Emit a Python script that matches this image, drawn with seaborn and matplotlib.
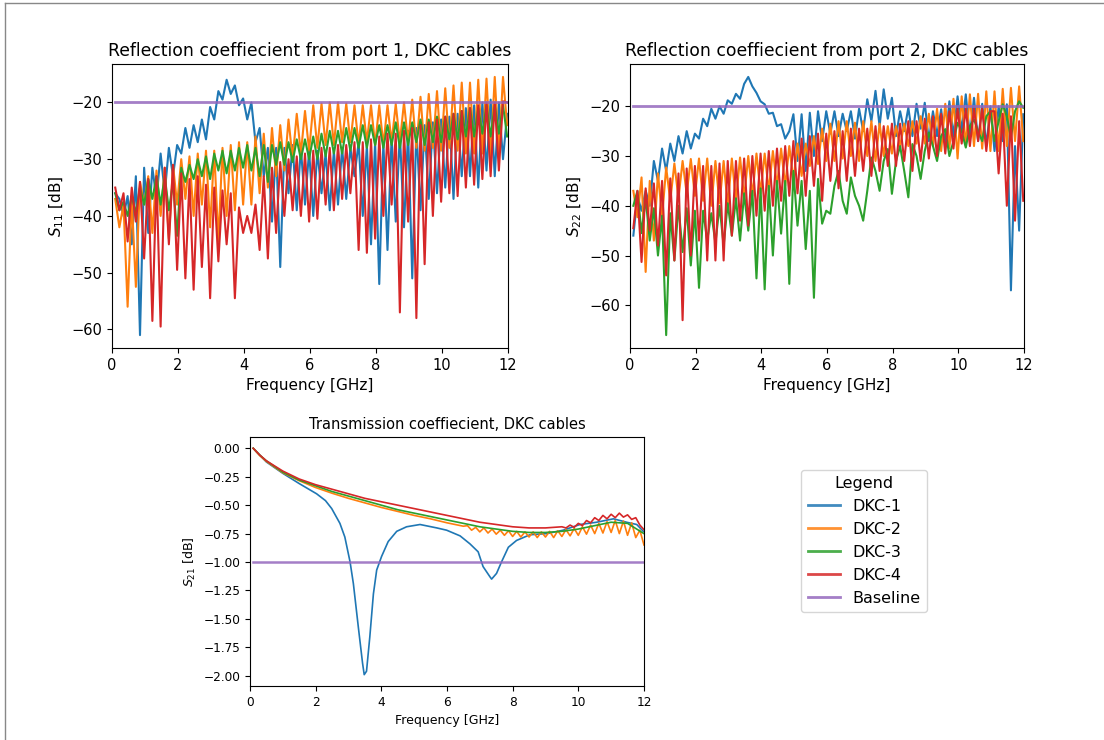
import numpy as np
import pandas as pd
import matplotlib
matplotlib.use("Agg")
import matplotlib.pyplot as plt
import seaborn as sns
from matplotlib.lines import Line2D

# ---------------- data ----------------
cables = ["DKC-1", "DKC-2", "DKC-3", "DKC-4"]
baseline_name = "Baseline"
palette = {"DKC-1": "#1f77b4", "DKC-2": "#ff7f0e", "DKC-3": "#2ca02c",
           "DKC-4": "#d62728", "Baseline": "#9467bd"}

# measurement frequencies for reflection traces (GHz), 0.1 ... 11.975
freq_refl = np.round(0.1 + 0.125 * np.arange(96), 3)
baseline_freq = [0.1, 12.0]
s11_baseline = -20.0
s22_baseline = -20.0
s21_baseline = -1.0

# S11 [dB]
s11_dkc1 = [-36, -37, -40, -36.5, -45, -33, -61, -31.5,
            -43, -31.5, -37, -29, -36, -28, -33, -27.5,
            -29, -24.5, -28, -24, -27, -23, -26.5, -20.8,
            -23, -18, -19.5, -16, -18.5, -17, -20.5, -19.3,
            -23, -20, -27, -24.5, -33, -28, -41, -28,
            -49, -28, -36, -27.5, -39, -28, -38, -28.5,
            -40, -28.5, -36, -29, -39, -28.5, -38, -28,
            -37, -28, -33, -27, -40, -27.5, -45, -27,
            -52, -27, -46, -26, -41, -25.5, -42, -25,
            -51, -24.5, -39, -24, -37, -23.5, -36, -23,
            -35, -22.5, -37, -22, -33, -21, -33, -20.5,
            -35, -20, -32, -19.5, -33, -20, -30, -22]
s11_dkc2 = [-37, -42, -38, -56, -37, -52.5, -34, -38,
            -33, -43, -32, -40, -31.5, -44, -31, -38,
            -30, -37, -29.5, -40, -29, -38, -28.5, -42,
            -28.5, -44.5, -28, -40, -27.5, -39, -27, -38,
            -27, -38, -26, -36, -25.5, -35, -24.5, -33,
            -24, -32, -23, -30, -22, -29, -21.5, -28.5,
            -20.5, -28, -20.2, -27.5, -20, -27.5, -20, -27,
            -20.2, -27, -20.5, -27.5, -20.5, -27, -20.5, -27.5,
            -20.5, -27.5, -20.5, -27, -20.3, -27, -20, -27,
            -19.5, -28, -19, -28.5, -18.5, -28, -18, -28.5,
            -17.5, -28, -17, -28.5, -16.5, -29, -16.5, -29,
            -16, -29, -15.8, -29.5, -15.5, -29, -15.5, -24]
s11_dkc3 = [-36, -39, -37.5, -40, -36.5, -39.5, -35, -38,
            -33.5, -37, -33, -38, -33, -39, -34, -43.5,
            -31.5, -34, -31, -33.5, -30, -33, -29.5, -33.5,
            -29, -32, -28.5, -32.5, -28.5, -32, -28, -31.5,
            -27.5, -32, -28, -33, -27.5, -34, -27.5, -31,
            -27, -31, -27, -30.5, -26.5, -30, -26.5, -30,
            -26, -30, -25.5, -29.5, -25, -29, -25, -29,
            -24.5, -28.5, -24.5, -28, -24, -28, -24, -27.5,
            -24, -28, -24, -27.5, -23.5, -28, -23.5, -27.5,
            -23.5, -27, -23, -27.5, -23, -27, -22.5, -27,
            -22.5, -26.5, -22, -26.5, -21.5, -26, -21, -26,
            -21, -25.5, -20.5, -26, -20.5, -25.5, -20.5, -26]
s11_dkc4 = [-35, -39, -36, -44.5, -35, -41, -34, -47.5,
            -33.5, -58.5, -33, -59.5, -31.5, -45, -31, -49.5,
            -32.5, -51, -33.5, -53, -33, -49, -34.5, -54.5,
            -35, -48, -35.5, -45, -36, -54.5, -38.5, -43,
            -40, -43, -38, -46, -33, -47.5, -31.5, -43,
            -30.5, -40, -30, -39, -29.5, -40, -29, -41,
            -28.5, -40.5, -28, -38, -28, -39, -27.5, -37,
            -27.5, -36, -27, -46, -27, -46.5, -26.5, -44,
            -26, -40, -25.5, -38, -25.5, -57, -25, -41,
            -24.5, -58, -24, -48.5, -23.5, -40, -23, -37.5,
            -22.5, -36, -22, -36.5, -21.5, -35, -21, -34.5,
            -20.5, -33.5, -20, -33, -20, -32, -19.8, -20]

# S22 [dB]
s22_dkc1 = [-46, -38, -41, -37, -40, -31, -35, -28.5,
            -33, -27.5, -31, -26, -29.5, -25, -28.5, -25.5,
            -26.5, -22.5, -24, -20.5, -22.5, -20, -21.5, -18.8,
            -19.5, -17.5, -18.5, -15.5, -14.1, -16, -17.3, -19,
            -19.6, -21.5, -21.3, -24, -23.6, -26.5, -25, -21.6,
            -31, -21.6, -33, -21.3, -30, -21, -27, -21,
            -25.5, -21, -26, -21.5, -25, -21, -26.5, -20.5,
            -25, -18.6, -23, -16.9, -24, -16.6, -22.5, -18.3,
            -26, -21, -25, -20.3, -26, -19.5, -24.5, -19.3,
            -27, -21, -26, -20.6, -28, -19, -26, -18,
            -25, -17.6, -26, -18.3, -27, -19.5, -28, -20,
            -29, -20, -27, -19.6, -57, -28, -45, -21.6]
s22_dkc2 = [-37, -42.3, -34.3, -53.3, -35, -47, -33.5, -42.3,
            -32.3, -39, -31.5, -38.5, -31, -37.6, -30.6, -38,
            -30.5, -39, -30.5, -40, -31, -39.5, -31, -40,
            -30.5, -39, -30.3, -38.5, -30, -38, -29.5, -37.5,
            -29.5, -37, -29, -36, -28.5, -36, -28, -35,
            -27.5, -34, -27.5, -32, -26, -31.6, -24.5, -31,
            -23.5, -31, -23, -30.5, -23, -30, -23.3, -31,
            -23, -30, -23, -31, -23.5, -30, -24, -29.5,
            -24, -28, -23.5, -28, -23, -27.5, -22, -27.5,
            -21.5, -28, -20.5, -29, -19.5, -28.5, -18.5, -30.5,
            -18, -28, -17.6, -28, -17.5, -28.5, -17, -29,
            -17, -29, -16.5, -28, -16.3, -27, -16, -27]
s22_dkc3 = [-40, -37, -45.5, -38.5, -47, -40.5, -50, -42,
            -66, -41.5, -51, -40, -49.3, -40.5, -52, -41,
            -56.5, -41, -47, -41.5, -47.5, -40, -48, -39.5,
            -46, -38.5, -47, -37.5, -45, -37, -54.6, -36.5,
            -56.8, -36, -50, -35, -45.6, -35, -55.7, -33,
            -44, -35, -48.7, -37, -58.5, -34.6, -43.6, -41,
            -41.6, -36, -33, -39, -41.6, -34.3, -38, -40,
            -43, -37, -30.3, -33, -37, -31, -28.6, -37.6,
            -31, -28, -33, -38.3, -27.6, -30, -34.6, -29,
            -25.3, -28, -31, -26, -24.6, -30, -27, -23.3,
            -25, -28.3, -24, -22.6, -25, -27, -22, -21,
            -27, -23, -19.6, -22, -26.3, -21, -19, -20.3]
s22_dkc4 = [-44.5, -37, -51.3, -36.5, -45, -35.5, -48, -35,
            -54, -34.5, -51, -33.5, -63, -32.5, -50, -32,
            -47, -32, -51, -32, -51, -31.5, -51, -31,
            -46, -31, -43, -30.5, -44, -30, -42, -29.5,
            -41, -29, -40, -28.5, -39, -28, -38, -27,
            -37.5, -26.5, -38, -26, -36, -25.5, -39, -25.5,
            -35, -25, -36.5, -25, -35, -24.5, -34, -24.5,
            -33, -24.5, -34, -24, -33, -24, -32, -23.5,
            -32, -23.5, -31, -23, -33, -23, -31, -22.5,
            -30.5, -22, -30, -21.5, -29.5, -21, -28.5, -20.5,
            -27.5, -20.5, -28, -20.5, -27, -20.5, -29, -21,
            -21, -33.5, -21.5, -40, -22, -43, -23, -39]

# S21 [dB]
s21_dkc1_freq = [0.1, 0.5, 1.0, 1.5, 2.03, 2.3, 2.49, 2.74, 2.89, 3.05,
                 3.15, 3.3, 3.43, 3.48, 3.55, 3.65, 3.76, 3.86, 4.01, 4.21,
                 4.47, 4.77, 5.18, 5.69, 5.99, 6.4, 6.7, 6.95, 7.1, 7.31,
                 7.36, 7.51, 7.66, 7.87, 8.12, 8.53, 9.04, 9.54, 10.05, 10.56,
                 11.07, 11.47, 11.78, 11.98]
s21_dkc1 = [0, -0.12, -0.22, -0.31, -0.40, -0.46, -0.53, -0.66, -0.78, -1.0,
            -1.19, -1.57, -1.89, -1.99, -1.96, -1.66, -1.28, -1.07, -0.95, -0.82,
            -0.73, -0.69, -0.67, -0.70, -0.72, -0.77, -0.84, -0.91, -1.04, -1.13,
            -1.15, -1.10, -1.0, -0.87, -0.81, -0.76, -0.75, -0.72, -0.67, -0.65,
            -0.62, -0.65, -0.67, -0.73]
s21_smooth_freq = [0.1, 0.3, 0.5, 0.75, 1, 1.5, 2, 2.5, 3, 3.5, 4, 4.5, 5,
                   5.5, 6, 6.5, 7, 7.5, 8, 8.5, 9, 9.5, 10, 10.5, 11, 11.5, 12]
s21_dkc3 = [0, -0.06, -0.11, -0.16, -0.21, -0.28, -0.33, -0.38, -0.42,
            -0.46, -0.50, -0.54, -0.57, -0.60, -0.63, -0.66, -0.69, -0.71,
            -0.73, -0.74, -0.74, -0.73, -0.71, -0.68, -0.65, -0.66, -0.75]
s21_dkc2_freq = [0.1, 0.3, 0.5, 0.75, 1, 1.5, 2, 2.5, 3, 3.5, 4, 4.5, 5, 5.5, 6, 6.5,
                 6.625, 6.75, 6.875, 7.0, 7.125, 7.25, 7.375, 7.5, 7.625, 7.75,
                 7.875, 8.0, 8.125, 8.25, 8.375, 8.5, 8.625, 8.75, 8.875, 9.0,
                 9.125, 9.25, 9.375, 9.5, 9.625, 9.75, 9.875, 10.0, 10.125, 10.25,
                 10.375, 10.5, 10.625, 10.75, 10.875, 11.0, 11.125, 11.25, 11.375,
                 11.5, 11.625, 11.75, 11.875, 12.0]
s21_dkc2 = [0, -0.065, -0.115, -0.165, -0.215, -0.285, -0.345, -0.395, -0.44,
            -0.48, -0.52, -0.555, -0.59, -0.62, -0.655, -0.685,
            -0.68, -0.72, -0.695, -0.735, -0.70, -0.745, -0.71, -0.755, -0.72, -0.765,
            -0.725, -0.775, -0.73, -0.78, -0.735, -0.78, -0.735, -0.785, -0.735, -0.78,
            -0.73, -0.785, -0.725, -0.775, -0.715, -0.77, -0.705, -0.765, -0.69, -0.755,
            -0.675, -0.75, -0.66, -0.745, -0.645, -0.74, -0.635, -0.75, -0.64,
            -0.765, -0.655, -0.785, -0.72, -0.85]
s21_dkc4_freq = [0.1, 0.3, 0.5, 0.75, 1, 1.5, 2, 2.5, 3, 3.5, 4, 4.5, 5, 5.5, 6,
                 6.5, 7, 7.5, 8, 8.5, 9, 9.5, 9.625, 9.75, 9.875, 10.0, 10.125,
                 10.25, 10.375, 10.5, 10.625, 10.75, 10.875, 11.0, 11.125, 11.25,
                 11.375, 11.5, 11.625, 11.75, 11.875, 12.0]
s21_dkc4 = [0, -0.06, -0.11, -0.155, -0.20, -0.27, -0.32, -0.36, -0.40, -0.44,
            -0.47, -0.50, -0.53, -0.56, -0.59, -0.62, -0.65, -0.67, -0.69,
            -0.70, -0.70, -0.69, -0.70, -0.675, -0.695, -0.66, -0.68, -0.635,
            -0.655, -0.61, -0.635, -0.59, -0.62, -0.58, -0.61, -0.57, -0.605,
            -0.585, -0.625, -0.61, -0.675, -0.715]


def long_frame(series, base_value):
    frames = []
    for name, (fr, vals) in series.items():
        frames.append(pd.DataFrame({"Frequency": fr, "Value": vals, "Cable": name}))
    frames.append(pd.DataFrame({"Frequency": baseline_freq,
                                "Value": [base_value, base_value],
                                "Cable": baseline_name}))
    return pd.concat(frames, ignore_index=True)


df11 = long_frame({"DKC-1": (freq_refl, s11_dkc1), "DKC-2": (freq_refl, s11_dkc2),
                   "DKC-3": (freq_refl, s11_dkc3), "DKC-4": (freq_refl, s11_dkc4)},
                  s11_baseline)
df22 = long_frame({"DKC-1": (freq_refl, s22_dkc1), "DKC-2": (freq_refl, s22_dkc2),
                   "DKC-3": (freq_refl, s22_dkc3), "DKC-4": (freq_refl, s22_dkc4)},
                  s22_baseline)
df21 = long_frame({"DKC-1": (s21_dkc1_freq, s21_dkc1), "DKC-2": (s21_dkc2_freq, s21_dkc2),
                   "DKC-3": (s21_smooth_freq, s21_dkc3), "DKC-4": (s21_dkc4_freq, s21_dkc4)},
                  s21_baseline)

order = cables + [baseline_name]


def style_baseline(ax, lw):
    # last drawn line is the baseline
    base = ax.lines[-1]
    base.set_linewidth(lw)
    base.set_alpha(0.85)


# ---------------- figure ----------------
fig = plt.figure(figsize=(11.04, 7.4), dpi=100)
ax1 = fig.add_axes([0.1014, 0.5297, 0.3587, 0.3838])
ax2 = fig.add_axes([0.5707, 0.5297, 0.3569, 0.3838])
ax3 = fig.add_axes([0.2264, 0.0730, 0.3569, 0.3365])

for ax, df, ylab, title in [
        (ax1, df11, "$S_{11}$ [dB]", "Reflection coeffiecient from port 1, DKC cables"),
        (ax2, df22, "$S_{22}$ [dB]", "Reflection coeffiecient from port 2, DKC cables")]:
    sns.lineplot(data=df, x="Frequency", y="Value", hue="Cable", hue_order=order,
                 palette=palette, estimator=None, legend=False, ax=ax, linewidth=1.5)
    style_baseline(ax, 2.0)
    ax.set_xlim(0, 12)
    ax.set_xticks([0, 2, 4, 6, 8, 10, 12])
    ax.set_xlabel("Frequency [GHz]", fontsize=11)
    ax.set_ylabel(ylab, fontsize=11)
    ax.set_title(title, fontsize=12.4)
    ax.tick_params(labelsize=10.5)

sns.lineplot(data=df21, x="Frequency", y="Value", hue="Cable", hue_order=order,
             palette=palette, estimator=None, legend=False, ax=ax3, linewidth=1.2)
style_baseline(ax3, 1.8)
ax3.set_xlim(0, 12)
ax3.set_xticks([0, 2, 4, 6, 8, 10, 12])
ax3.set_yticks([0, -0.25, -0.5, -0.75, -1.0, -1.25, -1.5, -1.75, -2.0])
ax3.set_xlabel("Frequency [GHz]", fontsize=9)
ax3.set_ylabel("$S_{21}$ [dB]", fontsize=9)
ax3.set_title("Transmission coeffiecient, DKC cables", fontsize=10.5)
ax3.tick_params(labelsize=8.7)

handles = [Line2D([], [], color=palette[n], lw=2, alpha=0.85) for n in order]
fig.legend(handles, order, title="Legend", loc="center",
           bbox_to_anchor=(0.7826, 0.2689), fontsize=11.5, title_fontsize=11.5)

# notebook output frame
fig.add_artist(Line2D([0.0045, 0.0045], [0.0, 0.9959], color="#888888", lw=1,
                      transform=fig.transFigure))
fig.add_artist(Line2D([0.0045, 1.0], [0.9959, 0.9959], color="#888888", lw=1,
                      transform=fig.transFigure))

fig.savefig("out.png", dpi=100, facecolor="white")
